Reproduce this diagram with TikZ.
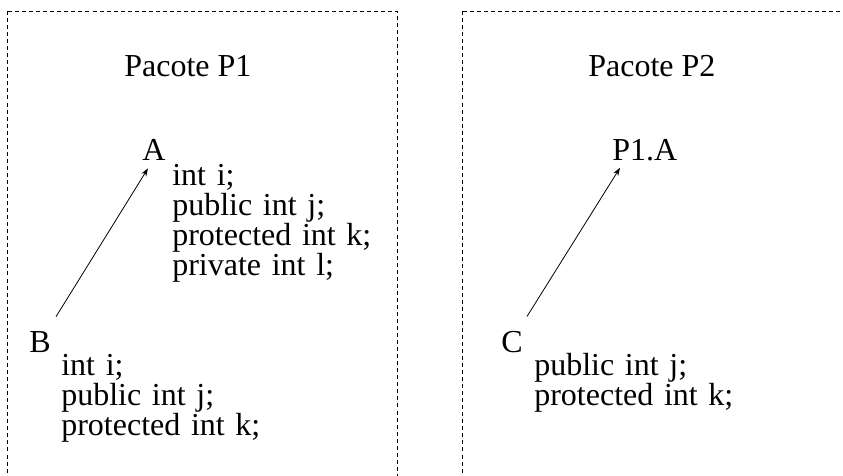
\documentclass[tikz,border=0pt]{standalone}
\usepackage{fontspec}
\setmainfont{Liberation Serif}
\usetikzlibrary{arrows.meta}
\protected\def\fontemembro{\fontsize{20}{18.75}\selectfont\spaceskip=\fontdimen2\font\relax}
\tikzset{
  pacote/.style={draw, dash pattern=on 2.5pt off 1.9pt, line width=0.6pt},
  rotulo/.style={anchor=base west, inner sep=0pt, font=\fontsize{20}{18.75}\selectfont},
  membros/.style={rotulo, text width=130pt, align=left, font=\fontemembro},
  uso/.style={-{Stealth[length=5pt,width=3.5pt]}, line width=0.5pt}
}
\begin{document}
\begin{tikzpicture}[x=0.625pt,y=-0.625pt]
\clip (0,0) rectangle (843,476);
\draw[pacote] (7,11) rectangle (397,500);
\draw[pacote] (462,11) rectangle (880,500);

\node[rotulo] (p1) at (124,76) {Pacote P1};
\node[rotulo] (A) at (142,160) {A};
\node[membros] (mA) at (172,185) {int i;\\ public int j;\\ protected int k;\\ private int l;};
\node[rotulo] (B) at (29,352) {B};
\node[membros] (mB) at (61,375) {int i;\\ public int j;\\ protected int k;};
\draw[uso] ([shift={(5,-14)}]B.north east) -- ([shift={(6,8)}]A.south west);

\node[rotulo] (p2) at (588,76) {Pacote P2};
\node[rotulo] (P1A) at (612,160) {P1.A};
\node[rotulo] (C) at (501,352) {C};
\node[membros] (mC) at (534,375) {public int j;\\ protected int k;};
\draw[uso] ([shift={(4,-14)}]C.north east) -- ([shift={(8,7)}]P1A.south west);
\end{tikzpicture}
\end{document}
